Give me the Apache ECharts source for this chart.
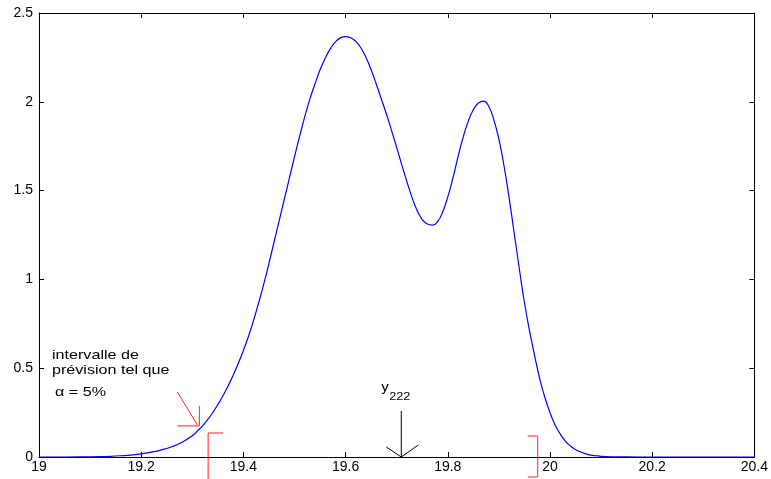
<!DOCTYPE html>
<html>
<head>
<meta charset="utf-8">
<script src="https://cdn.jsdelivr.net/npm/echarts@6/dist/echarts.min.js"></script>
<style>html,body{margin:0;padding:0;background:#fff;}#c{width:771px;height:479px;}</style>
</head>
<body>
<div id="c"></div>
<script>
// Density curve
const xValues = [19.0, 19.05, 19.10, 19.12, 19.14, 19.16, 19.18, 19.20, 19.22, 19.24, 19.26, 19.28,
  19.30, 19.31, 19.32, 19.33, 19.34, 19.35, 19.36, 19.37, 19.38, 19.39,
  19.40, 19.41, 19.42, 19.43, 19.44, 19.45, 19.46, 19.47, 19.48, 19.49,
  19.50, 19.51, 19.52, 19.53, 19.54, 19.55, 19.56, 19.57, 19.58, 19.59,
  19.60, 19.61, 19.62, 19.63, 19.64, 19.65, 19.66, 19.67, 19.68, 19.69,
  19.70, 19.71, 19.72, 19.73, 19.74, 19.75, 19.76, 19.77, 19.78, 19.79,
  19.80, 19.81, 19.82, 19.83, 19.84, 19.85, 19.86, 19.87, 19.88, 19.89,
  19.90, 19.91, 19.92, 19.93, 19.94, 19.95, 19.96, 19.97, 19.98, 19.99,
  20.00, 20.01, 20.02, 20.03, 20.04, 20.05, 20.06, 20.07, 20.08, 20.09,
  20.10, 20.12, 20.15, 20.2, 20.3, 20.4];
const yValues = [0, 0, 0.001, 0.002, 0.004, 0.007, 0.011, 0.018, 0.027, 0.04, 0.058, 0.083,
  0.12, 0.146, 0.175, 0.21, 0.25, 0.295, 0.345, 0.40, 0.46, 0.527,
  0.60, 0.68, 0.77, 0.87, 0.975, 1.09, 1.21, 1.33, 1.45, 1.57,
  1.69, 1.805, 1.915, 2.015, 2.10, 2.18, 2.245, 2.298, 2.337, 2.36,
  2.367, 2.361, 2.34, 2.303, 2.25, 2.18, 2.10, 2.015, 1.93, 1.838,
  1.743, 1.645, 1.55, 1.462, 1.388, 1.337, 1.312, 1.306, 1.325, 1.38,
  1.465, 1.57, 1.69, 1.80, 1.89, 1.955, 1.993, 2.004, 1.975, 1.90,
  1.79, 1.64, 1.46, 1.26, 1.06, 0.87, 0.71, 0.57, 0.44, 0.335,
  0.25, 0.18, 0.13, 0.09, 0.062, 0.042, 0.028, 0.018, 0.011, 0.007,
  0.004, 0.0015, 0.0005, 0, 0, 0];
// Axis ticks
const xTickLabels = ['19', '19.2', '19.4', '19.6', '19.8', '20', '20.2', '20.4'];
const yTickLabels = ['0', '0.5', '1', '1.5', '2', '2.5'];
// Annotations (data values)
const intervalBounds = [19.331, 19.976];
const yObserved = 19.709;
const arrowTarget = [19.3138, 0.175];
const annotationLines = ['intervalle de', 'prévision tel que'];
const alphaLabel = 'α = 5%';

const font = 'Liberation Sans, Arial, Helvetica, sans-serif';
const chart = echarts.init(document.getElementById('c'));
const seriesData = xValues.map((x, i) => [x, yValues[i]]);
const axisCommon = {
  axisLine: { show: true, onZero: false, lineStyle: { color: '#000', width: 1 } },
  axisTick: { show: true, inside: true, length: 5, lineStyle: { color: '#000' } },
  splitLine: { show: false }
};
chart.setOption({
  animation: false,
  backgroundColor: '#fff',
  grid: { left: 39, right: 14, top: 13, bottom: 22, containLabel: false },
  xAxis: [
    Object.assign({ type: 'value', min: 19, max: 20.4, interval: 0.2, position: 'bottom',
      axisLabel: { color: '#000', fontSize: 14, fontFamily: font, margin: 3,
        formatter: v => { const i = Math.round((v - 19) / 0.2); return xTickLabels[i] || ''; } } }, axisCommon),
    Object.assign({ type: 'value', min: 19, max: 20.4, interval: 0.2, position: 'top',
      axisLabel: { show: false } }, axisCommon)
  ],
  yAxis: [
    Object.assign({ type: 'value', min: 0, max: 2.5, interval: 0.5, position: 'left',
      axisLabel: { color: '#000', fontSize: 14, fontFamily: font, margin: 6,
        formatter: v => { const i = Math.round(v / 0.5); return yTickLabels[i] || ''; } } }, axisCommon),
    Object.assign({ type: 'value', min: 0, max: 2.5, interval: 0.5, position: 'right',
      axisLabel: { show: false } }, axisCommon)
  ],
  series: [{
    type: 'line', data: seriesData, showSymbol: false, smooth: 0.5,
    lineStyle: { color: '#0000ff', width: 1.2 }, itemStyle: { color: '#0000ff' }, z: 3
  }]
});

function px(x, y) { return chart.convertToPixel({ gridIndex: 0 }, [x, y]); }
const base = px(19, 0);
const y0 = base[1];
const red = '#ff2020';
const els = [];
function seg(x1, y1, x2, y2, color) {
  els.push({ type: 'line', shape: { x1, y1, x2, y2 }, style: { stroke: color, lineWidth: 1 }, z: 10 });
}
// red arrow
const at = px(arrowTarget[0], arrowTarget[1]);
seg(at[0] - 22, at[1] - 34, at[0] - 2, at[1] - 1, red);
seg(at[0], at[1] - 20, at[0], at[1], red);
seg(at[0] - 22, at[1], at[0], at[1], red);
// interval brackets
const lb = px(intervalBounds[0], 0)[0];
seg(lb, y0 - 24, lb, 479, red);
seg(lb, y0 - 24, lb + 15, y0 - 24, red);
const rb = px(intervalBounds[1], 0)[0];
seg(rb, y0 - 21, rb, y0 + 20, red);
seg(rb - 10, y0 - 21, rb, y0 - 21, red);
seg(rb - 10, y0 + 20, rb, y0 + 20, red);
// y_222 arrow
const ya = px(yObserved, 0)[0];
seg(ya, y0 - 46, ya, y0, '#000');
seg(ya - 15, y0 - 10, ya, y0, '#000');
seg(ya + 17, y0 - 12, ya, y0, '#000');
els.push({ type: 'text', x: ya - 20, y: y0 - 76, scaleX: 1.15,
  style: { text: 'y', font: '13px ' + font, fill: '#000' }, z: 10 });
els.push({ type: 'text', x: ya - 12, y: y0 - 66, scaleX: 1.15,
  style: { text: '222', font: '11px ' + font, fill: '#000' }, z: 10 });
// text annotation
els.push({ type: 'text', x: 52, y: 349, scaleX: 1.24,
  style: { text: annotationLines[0], font: '13px ' + font, fill: '#000' }, z: 10 });
els.push({ type: 'text', x: 52, y: 364, scaleX: 1.24,
  style: { text: annotationLines[1], font: '13px ' + font, fill: '#000' }, z: 10 });
els.push({ type: 'text', x: 55, y: 386, scaleX: 1.24,
  style: { text: alphaLabel, font: '13px ' + font, fill: '#000' }, z: 10 });
chart.setOption({ graphic: { elements: els } });
</script>
</body>
</html>
